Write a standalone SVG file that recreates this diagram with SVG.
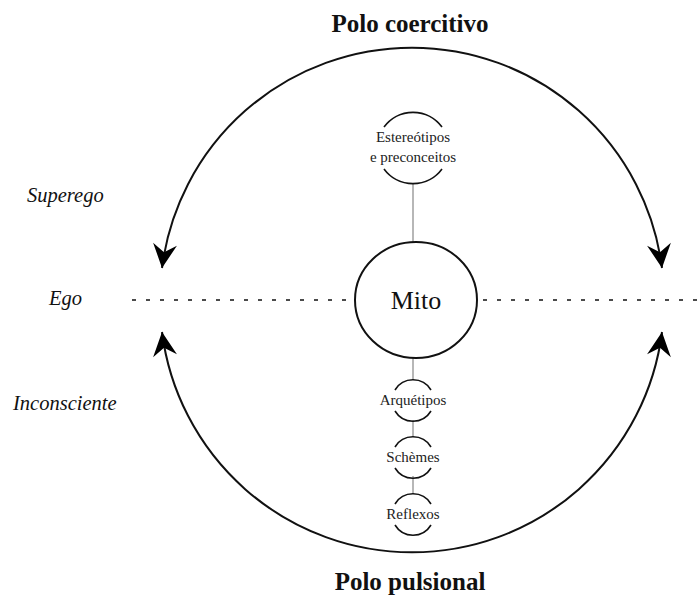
<svg xmlns="http://www.w3.org/2000/svg" width="700" height="595" viewBox="0 0 700 595">
<style>
  .title { font-size: 25px; font-weight: bold; text-anchor: middle; }
  .side { font-size: 20.5px; font-style: italic; }
  .node { font-size: 15px; text-anchor: middle; fill: #222; }
  .arc { fill: none; stroke: #111; stroke-width: 2; }
  .narc { fill: none; stroke: #111; stroke-width: 1.6; }
  .link { stroke: #999; stroke-width: 1.4; }
  .dots { stroke: #111; stroke-width: 1.6; stroke-dasharray: 4 10; }
</style>
<defs>
  <marker id="arrow" markerUnits="userSpaceOnUse" markerWidth="30" markerHeight="30" viewBox="-26 -15 30 30" refX="0" refY="0" orient="auto-start-reverse">
    <path d="M0,0 L-24,-12 L-16,0 L-24,12 Z" fill="#000"/>
  </marker>
</defs>
<rect width="700" height="595" fill="#fff"/>

<g font-family="'Liberation Serif', 'Times New Roman', Times, 'DejaVu Serif', serif" fill="#111">
<g id="titles">
  <text class="title" x="410" y="32">Polo coercitivo</text>
  <text class="title" x="410" y="590">Polo pulsional</text>
</g>

<g id="side-labels">
  <text class="side" x="27" y="202">Superego</text>
  <text class="side" x="49" y="305">Ego</text>
  <text class="side" x="13" y="410">Inconsciente</text>
</g>
</g>

<g id="connectors">
  <path class="arc" d="M162,268 A252,252 0 0 1 662,268" marker-start="url(#arrow)" marker-end="url(#arrow)"/>
  <path class="arc" d="M162,332 A252,252 0 0 0 662,332" marker-start="url(#arrow)" marker-end="url(#arrow)"/>
  <line class="dots" x1="132" y1="300" x2="355" y2="300"/>
  <line class="dots" x1="483" y1="300" x2="700" y2="300"/>
  <line class="link" x1="413" y1="184" x2="413" y2="242"/>
  <line class="link" x1="413" y1="358" x2="413" y2="380"/>
  <line class="link" x1="413" y1="420" x2="413" y2="437"/>
  <line class="link" x1="413" y1="476" x2="413" y2="494"/>
</g>

<g font-family="'Liberation Serif', 'Times New Roman', Times, 'DejaVu Serif', serif" fill="#111">
<g id="mito">
  <ellipse cx="416" cy="300" rx="61" ry="58" fill="#fff" stroke="#111" stroke-width="2"/>
  <text x="416" y="309" font-size="26" text-anchor="middle">Mito</text>
</g>

<g id="estereotipos">
  <path class="narc" d="M384,127 A36,36 0 0 1 442,127"/>
  <path class="narc" d="M384,169 A36,36 0 0 0 442,169"/>
  <text class="node" x="413" y="142">Estereótipos</text>
  <text class="node" x="413" y="162">e preconceitos</text>
</g>

<g id="arquetipos">
  <path class="narc" d="M395,390 A21,21 0 0 1 431,390"/>
  <path class="narc" d="M395,411 A21,21 0 0 0 431,411"/>
  <text class="node" x="413" y="405">Arquétipos</text>
</g>

<g id="schemes">
  <path class="narc" d="M395,447 A21,21 0 0 1 431,447"/>
  <path class="narc" d="M395,468 A21,21 0 0 0 431,468"/>
  <text class="node" x="413" y="462">Schèmes</text>
</g>

<g id="reflexos">
  <path class="narc" d="M395,504 A21,21 0 0 1 431,504"/>
  <path class="narc" d="M395,525 A21,21 0 0 0 431,525"/>
  <text class="node" x="413" y="519">Reflexos</text>
</g>
</g>
</svg>
